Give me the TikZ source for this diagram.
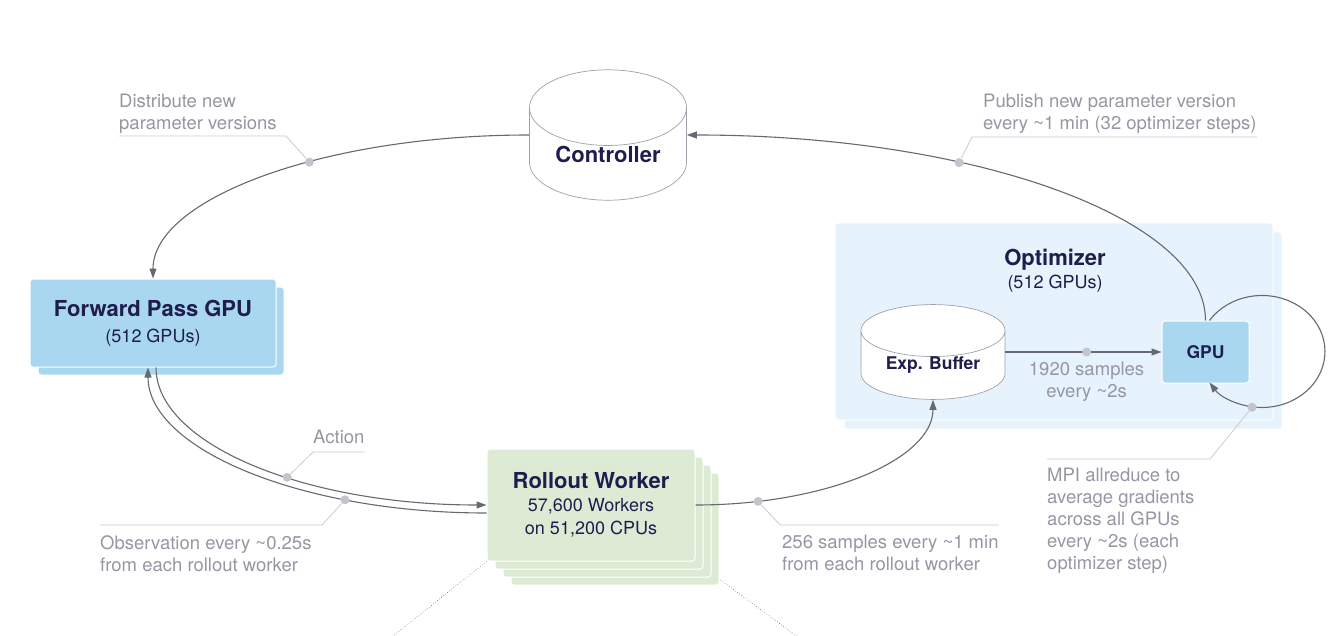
\documentclass[tikz,border=0pt]{standalone}
\usepackage{fontspec}
\setmainfont{TeX Gyre Heros}
\usetikzlibrary{shapes,arrows.meta,shadows,backgrounds,positioning}

\definecolor{titlenavy}{RGB}{30,29,77}
\definecolor{labelgray}{RGB}{150,150,164}
\definecolor{leadergray}{RGB}{202,202,212}
\definecolor{dotgray}{RGB}{196,196,207}
\definecolor{linegray}{RGB}{104,104,114}
\definecolor{cylgray}{RGB}{160,160,172}
\definecolor{gpublue}{RGB}{169,215,240}
\definecolor{optblue}{RGB}{230,243,252}
\definecolor{workergreen}{RGB}{221,235,213}

\newcommand\bigtitle{\fontsize{22}{26}\selectfont\bfseries}
\newcommand\smalltitle{\fontsize{17.5}{22}\selectfont\bfseries}
\newcommand\subtext{\fontsize{18}{23}\selectfont}
\newcommand\labeltext{\fontsize{18.5}{22}\selectfont}

\begin{document}
\begin{tikzpicture}[x=1pt, y=-1pt,
  card/.style={rectangle, rounded corners=3pt, draw=white, line width=1pt, inner sep=0pt, align=center, text=titlenavy, font=\subtext},
  cyl/.style={cylinder, shape border rotate=90, draw=cylgray, fill=white, line width=0.7pt, inner sep=0pt, text=titlenavy},
  flow/.style={draw=linegray, line width=1.1pt},
  flowarrow/.style={-{Triangle[length=10pt,width=7pt]}},
  tapdot/.style={circle, fill=dotgray, inner sep=0pt, minimum size=9pt},
  leader/.style={draw=leadergray, line width=0.8pt},
  note/.style={font=\labeltext, text=labelgray, align=left, inner sep=0pt, anchor=north west}]
\def \gap {8pt}
\useasboundingbox (0,0) rectangle (1340,636);

%Controller
\node[cyl, aspect=0.72, minimum width=157pt, minimum height=110pt, anchor=shape center, font=\bigtitle] (ctrl) at (608,135) {Controller};

%Forward pass
\node[card, fill=gpublue, minimum width=246pt, minimum height=88pt,
  general shadow={shadow xshift=\gap, shadow yshift=-\gap, fill=gpublue, draw=white, line width=1pt}] (fp) at (153,323) {{\bigtitle Forward Pass GPU}\\[3pt](512 GPUs)};

%Rollout workers
\node[card, fill=workergreen, minimum width=208pt, minimum height=112pt,
  general shadow={shadow xshift=3*\gap, shadow yshift=-3*\gap, fill=workergreen, draw=white, line width=1pt},
  general shadow={shadow xshift=2*\gap, shadow yshift=-2*\gap, fill=workergreen, draw=white, line width=1pt},
  general shadow={shadow xshift=\gap, shadow yshift=-\gap, fill=workergreen, draw=white, line width=1pt}] (rollout) at (591,505) {{\bigtitle Rollout Worker}\\57,600 Workers\\on 51,200 CPUs};

%Optimizer
\node[card, fill=optblue, minimum width=438pt, minimum height=197pt,
  general shadow={shadow xshift=9pt, shadow yshift=-9pt, fill=optblue, draw=white, line width=1pt}] (opt) at (1054,321.5) {};
\node[align=center, text=titlenavy, font=\subtext, inner sep=0pt] (opttitle) at (1055,271) {{\bigtitle Optimizer}\\(512 GPUs)};

%Buffer and GPU
\node[cyl, aspect=0.55, minimum width=144pt, minimum height=90pt, anchor=shape center, font=\smalltitle] (buffer) at (933,352) {Exp. Buffer};
\node[card, fill=gpublue, minimum width=87pt, minimum height=62pt, font=\smalltitle] (gpu) at (1205.5,352) {GPU};

%Parameter flow
\draw[flow, flowarrow] (ctrl.west |- ctrl.shape center) .. controls +(-207.7,0) and +(0,-79) .. (fp.north) node[tapdot, pos=0.395] (distdot) {};
\draw[flow, flowarrow] (gpu.north) .. controls +(0,-103.3) and +(284.4,0) .. (ctrl.east |- ctrl.shape center) node[tapdot, pos=0.65] (pubdot) {};

%Action and observation
\draw[flow, flowarrow] ([xshift=3pt]fp.south) .. controls +(0,76.2) and +(-182.8,0) .. (rollout.west) node[tapdot, pos=0.59] (actdot) {};
\draw[flow, flowarrow] ([yshift=-8pt]rollout.west) .. controls +(-187.2,0) and +(0,80.6) .. ([xshift=-5pt]fp.south) node[tapdot, pos=0.27] (obsdot) {};

%Samples
\draw[flow, flowarrow] (rollout.east) .. controls +(131.5,0) and +(0,59.1) .. (buffer.south) node[tapdot, pos=0.165] (sampdot) {};
\draw[flow, flowarrow] (buffer.east |- buffer.shape center) -- (gpu.west) node[tapdot, pos=0.52] (batchdot) {};
\node[note, anchor=north, align=center, below=5pt of batchdot] (batch) {1920 samples\\every \textasciitilde 2s};

%Allreduce loop
\draw[flow, flowarrow] ([xshift=4pt]gpu.north) arc[start angle=-146.4, end angle=146.4, x radius=63, y radius=56];
\node[tapdot] (mpidot) at (1252.1,407.3) {};

%Labels
\node[note] (dist) at (119,94) {Distribute new\\parameter versions};
\coordinate (distk) at (286,136);
\draw[leader] (distdot) -- (distk) -- (distk -| dist.west);

\node[note] (pub) at (983,94) {Publish new parameter version\\every \textasciitilde 1 min (32 optimizer steps)};
\coordinate (pubk) at (972,137);
\draw[leader] (pubdot) -- (pubk) -- (pubk -| pub.east);

\node[note] (action) at (313,430) {Action};
\coordinate (actk) at (313,452);
\draw[leader] (actdot) -- (actk) -- (actk -| action.east);

\node[note] (obs) at (100,535) {Observation every \textasciitilde 0.25s\\from each rollout worker};
\coordinate (obsk) at (322,525);
\draw[leader] (obsdot) -- (obsk) -- (obsk -| obs.west);

\node[note] (samp) at (782,535) {256 samples every \textasciitilde 1 min\\from each rollout worker};
\coordinate (sampk) at (780,525);
\draw[leader] (sampdot) -- (sampk) -- (sampk -| samp.east);

\node[note] (mpi) at (1047,468) {MPI allreduce to\\average gradients\\across all GPUs\\every \textasciitilde 2s (each\\optimizer step)};
\coordinate (mpik) at (1210,459);
\draw[leader] (mpidot) -- (mpik) -- (mpik -| mpi.west);

%Zoom lines
\coordinate (zoomleft) at (388,640);
\coordinate (zoomright) at (802,640);
\begin{scope}[on background layer]
\draw[linegray, dotted, line width=0.6pt] (rollout.south west) -- (zoomleft);
\draw[linegray, dotted, line width=0.6pt] (rollout.south east) -- (zoomright);
\end{scope}

\end{tikzpicture}
\end{document}
